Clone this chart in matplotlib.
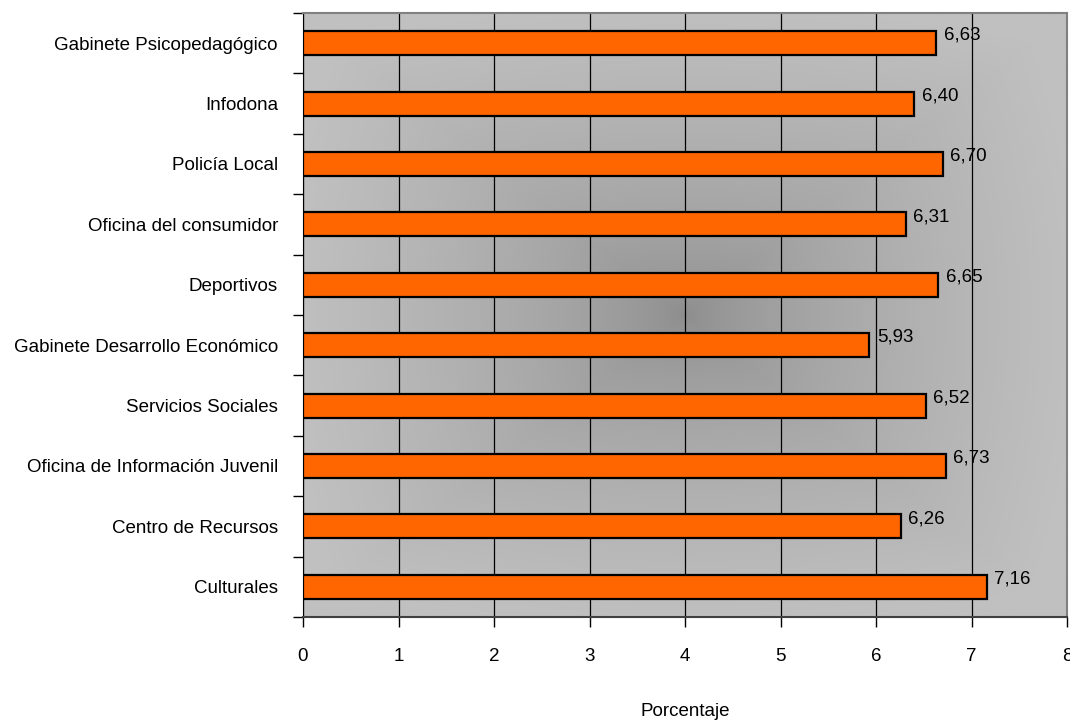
import numpy as np
import matplotlib
matplotlib.use("Agg")
import matplotlib.pyplot as plt
from matplotlib.colors import LinearSegmentedColormap

plt.rcParams['font.family'] = ['Liberation Sans', 'DejaVu Sans']

# data, listed top to bottom as in the chart
categories = [
    "Gabinete Psicopedagógico",
    "Infodona",
    "Policía Local",
    "Oficina del consumidor",
    "Deportivos",
    "Gabinete Desarrollo Económico",
    "Servicios Sociales",
    "Oficina de Información Juvenil",
    "Centro de Recursos",
    "Culturales",
]
values = [6.63, 6.40, 6.70, 6.31, 6.65, 5.93, 6.52, 6.73, 6.26, 7.16]
value_labels = ["6,63", "6,40", "6,70", "6,31", "6,65", "5,93", "6,52", "6,73", "6,26", "7,16"]
xticks = [0, 1, 2, 3, 4, 5, 6, 7, 8]

fs = 13.5

fig = plt.figure(figsize=(10.7, 7.22), dpi=100)
ax = fig.add_axes([303 / 1070, 1 - 617 / 722, 764 / 1070, 604 / 722])

# grey "from centre" gradient background, lighter towards the edges
n = 300
gx, gy = np.meshgrid(np.linspace(-1, 1, n), np.linspace(-1, 1, n))
d = np.maximum(np.abs(gx), np.abs(gy))
d = 0.6 * d + 0.4 * np.sqrt(gx ** 2 + gy ** 2) / np.sqrt(2)
cmap = LinearSegmentedColormap.from_list("bg", ["#8c8c8c", "#c0c0c0"])
ax.imshow(np.clip(d * 1.1, 0, 1) ** 0.65, cmap=cmap, vmin=0, vmax=1, extent=[0, 1, 0, 1],
          transform=ax.transAxes, aspect="auto", zorder=0, interpolation="bilinear")

ypos = np.arange(len(categories))[::-1]
ax.barh(ypos, values, height=0.4, color="#ff6600", edgecolor="black", linewidth=1.6, zorder=3)

for y, v, lab in zip(ypos, values, value_labels):
    ax.text(v + 0.08, y + 0.13, lab, fontsize=fs, va="center", ha="left", zorder=4)

ax.set_xlim(0, 8)
ax.set_ylim(-0.5, len(categories) - 0.5)
ax.set_xticks(xticks)
ax.set_xticklabels([str(t) for t in xticks], fontsize=fs)
ax.set_yticks(ypos)
ax.set_yticklabels(categories, fontsize=fs)
ax.set_yticks(np.arange(-0.5, len(categories), 1), minor=True)
ax.tick_params(axis="y", which="major", length=0, pad=18)
ax.tick_params(axis="y", which="minor", length=7.5, width=1, color="black")
ax.tick_params(axis="x", which="major", length=7.5, width=1, pad=15, color="black")

ax.grid(True, axis="x", color="black", linewidth=0.9)
ax.set_axisbelow(True)
for line in ax.get_xgridlines():
    line.set_zorder(1)

ax.spines["left"].set_color("black")
ax.spines["bottom"].set_color("#404040")
ax.spines["bottom"].set_linewidth(1.5)
ax.spines["top"].set_color("#808080")
ax.spines["top"].set_linewidth(1.5)
ax.spines["right"].set_color("#808080")
ax.spines["right"].set_linewidth(1.5)

fig.text(685 / 1070, 1 - 711 / 722, "Porcentaje", fontsize=fs, ha="center", va="center")

fig.savefig("out.png", dpi=100)
